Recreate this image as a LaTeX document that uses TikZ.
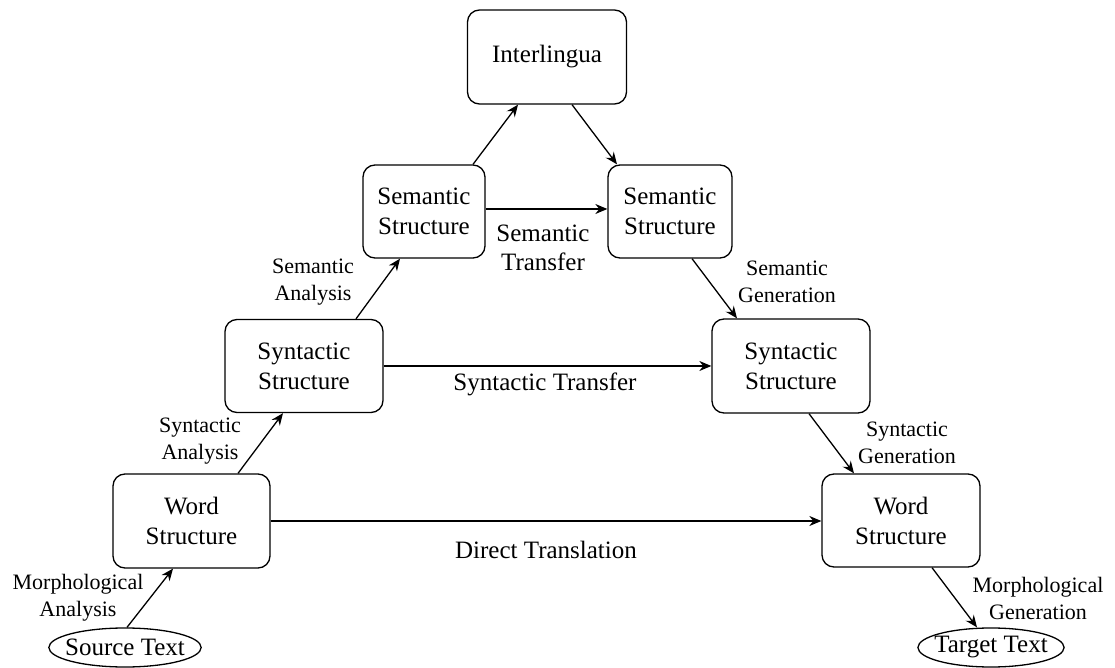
\documentclass[tikz,border=0pt]{standalone}
\usepackage{fontspec}
\setmainfont{Liberation Serif}
\newfontfamily\diagfont{Liberation Serif}
\usetikzlibrary{arrows.meta,shapes.geometric}

\tikzset{
  stage/.style={draw, rounded corners=6pt, line width=0.65pt, align=center,
    font=\diagfont\fontsize{12.5}{15}\selectfont, inner sep=0pt},
  textend/.style={draw, ellipse, line width=0.65pt, inner xsep=-3pt, inner ysep=1pt,
    font=\diagfont\fontsize{12.5}{15}\selectfont},
  steplabel/.style={align=center, font=\diagfont\fontsize{11}{13.5}\selectfont, inner sep=0pt},
  translabel/.style={align=center, font=\diagfont\fontsize{12.5}{14.5}\selectfont, inner sep=0pt},
  flow/.style={line width=0.65pt, -{Stealth[length=6pt,width=5pt]}}
}

\begin{document}
\begin{tikzpicture}[x=0.5pt,y=-0.5pt]
\useasboundingbox (0,0) rectangle (1115,668);

% stages of analysis and generation
\node[stage, minimum width=79.5pt, minimum height=47pt] (inter) at (547,57) {Interlingua};
\node[stage, minimum width=61pt, minimum height=46.5pt] (semL) at (424,211.5) {Semantic\\Structure};
\node[stage, minimum width=62pt, minimum height=46.5pt] (semR) at (670,211.5) {Semantic\\Structure};
\node[stage, minimum width=79pt, minimum height=46.5pt] (synL) at (304,366) {Syntactic\\Structure};
\node[stage, minimum width=79pt, minimum height=47pt] (synR) at (791,366) {Syntactic\\Structure};
\node[stage, minimum width=78.5pt, minimum height=47pt] (wordL) at (191.5,521) {Word\\Structure};
\node[stage, minimum width=79pt, minimum height=46.5pt] (wordR) at (901,520.5) {Word\\Structure};

% source and target texts
\node[textend, minimum width=75pt, minimum height=19.5pt] (src) at (125,647.5) {Source Text};
\node[textend, inner xsep=-2.5pt, minimum width=71pt, minimum height=19.5pt] (tgt) at (991,647.5) {Target Text};

% analysis side
\draw[flow] ([xshift=1pt]src.north) -- ([xshift=-9.25pt]wordL.south);
\draw[flow] ([xshift=23.25pt]wordL.north) -- ([xshift=-10.5pt]synL.south);
\draw[flow] ([xshift=26pt]synL.north) -- ([xshift=-12pt]semL.south);
\draw[flow] ([xshift=24.5pt]semL.north) -- ([xshift=-14.5pt]inter.south);

% generation side
\draw[flow] ([xshift=12.5pt]inter.south) -- ([xshift=-26.5pt]semR.north);
\draw[flow] ([xshift=11pt]semR.south) -- ([xshift=-27pt]synR.north);
\draw[flow] ([xshift=9pt]synR.south) -- ([xshift=-23.5pt]wordR.north);
\draw[flow] ([xshift=15.5pt]wordR.south) -- ([xshift=-7pt]tgt.north);

% transfers
\draw[flow] ([yshift=1.25pt]semL.east) -- ([yshift=1.25pt]semR.west);
\draw[flow] (synL.east) -- (synL.east -| synR.west);
\draw[flow] (wordL.east) -- (wordL.east -| wordR.west);

% labels
\node[steplabel] (lmorA) at (78,598) {Morphological\\Analysis};
\node[steplabel] (lsynA) at (200,441) {Syntactic\\Analysis};
\node[steplabel] (lsemA) at (313,282) {Semantic\\Analysis};
\node[steplabel] (lsemG) at (787,282) {Semantic\\Generation};
\node[steplabel] (lsynG) at (907,443) {Syntactic\\Generation};
\node[steplabel] (lmorG) at (1038,598) {Morphological\\Generation};
\node[translabel] (lsemT) at (543,248) {Semantic\\Transfer};
\node[translabel] (lsynT) at (545,384) {Syntactic Transfer};
\node[translabel] (ldir) at (546,550) {Direct Translation};
\end{tikzpicture}
\end{document}
